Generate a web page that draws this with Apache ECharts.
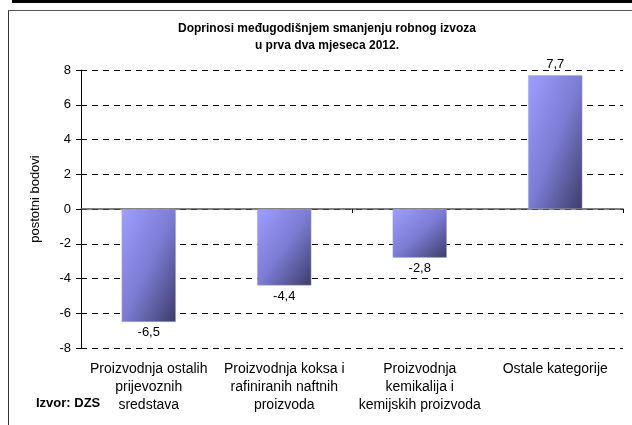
<!DOCTYPE html>
<html><head><meta charset="utf-8">
<script src="https://cdn.jsdelivr.net/npm/echarts@6/dist/echarts.min.js"></script>
<style>html,body{margin:0;padding:0;background:#fff}#c{width:632px;height:425px}</style>
</head><body><div id="c"></div>
<script>
const titleLines = ['Doprinosi međugodišnjem smanjenju robnog izvoza', 'u prva dva mjeseca 2012.'];
const categories = ['Proizvodnja ostalih\nprijevoznih\nsredstava', 'Proizvodnja koksa i\nrafiniranih naftnih\nproizvoda', 'Proizvodnja\nkemikalija i\nkemijskih proizvoda', 'Ostale kategorije'];
const values = [-6.5, -4.4, -2.8, 7.7];
const yAxisName = 'postotni bodovi';
const sourceText = 'Izvor: DZS';

const FONT = '"Liberation Sans", Arial, sans-serif';
const chart = echarts.init(document.getElementById('c'), null, {renderer: 'canvas'});
const stops = [
  {offset: 0, color: '#9e9eff'},
  {offset: 0.5, color: '#7c7cd4'},
  {offset: 1, color: '#3c3c6a'}
];
const baseOption = {
  animation: false,
  textStyle: {fontFamily: FONT},
  title: {
    text: titleLines.join('\n'),
    left: 322, top: 15, textAlign: 'center',
    textStyle: {fontSize: 12, fontWeight: 'bold', color: '#000', lineHeight: 17, fontFamily: FONT}
  },
  graphic: [
    {type: 'rect', shape: {x: 12, y: 0, width: 620, height: 3}, style: {fill: '#000'}, silent: true},
    {type: 'line', shape: {x1: 8.5, y1: 10, x2: 8.5, y2: 425}, style: {stroke: '#333', lineWidth: 1}, silent: true},
    {type: 'line', shape: {x1: 8, y1: 10.5, x2: 632, y2: 10.5}, style: {stroke: '#555', lineWidth: 1}, silent: true},
    {type: 'text', left: 36, top: 397, style: {text: sourceText, font: 'bold 13px ' + FONT, fill: '#000'}}
  ],
  grid: {left: 81, right: 9, top: 70, bottom: 77, containLabel: false},
  xAxis: [
    {type: 'category', data: categories, position: 'bottom',
     axisLine: {show: false, onZero: false}, axisTick: {show: false},
     axisLabel: {color: '#000', fontSize: 14, lineHeight: 18, margin: 12, interval: 0, fontFamily: FONT}},
    {type: 'category', data: categories, position: 'bottom',
     axisLine: {show: true, onZero: true, lineStyle: {color: '#555', width: 1.5}},
     axisTick: {show: true, length: 4, inside: false, lineStyle: {color: '#000'}},
     axisLabel: {show: false}}
  ],
  yAxis: {
    type: 'value', min: -8, max: 8, interval: 2,
    name: yAxisName, nameLocation: 'middle', nameGap: 39, nameRotate: 90,
    nameTextStyle: {color: '#000', fontSize: 13, fontFamily: FONT, padding: [0, 0, 0, 20]},
    axisLine: {show: true, lineStyle: {color: '#000', width: 1}},
    axisTick: {show: true, length: 5, lineStyle: {color: '#000'}},
    axisLabel: {color: '#000', fontSize: 13, margin: 10, fontFamily: FONT},
    splitLine: {show: true, lineStyle: {color: '#000', type: [6, 5], width: 1}}
  },
  series: [{
    type: 'bar', data: values, barWidth: '40%', xAxisIndex: 0,
    itemStyle: {color: stops[0].color, borderColor: '#aab', borderWidth: 0.5},
    label: {show: true, position: 'top', color: '#000', fontSize: 13, fontFamily: FONT, distance: 4,
      formatter: p => String(p.value).replace('.', ',')}
  }]
};
chart.setOption(baseOption);
// per-bar diagonal gradient (Excel-like: isolines parallel to the bar's anti-diagonal)
const bandW = chart.convertToPixel({xAxisIndex: 0}, categories[1]) - chart.convertToPixel({xAxisIndex: 0}, categories[0]);
const w = bandW * 0.4;
const data = values.map((v, i) => {
  const cx = chart.convertToPixel({xAxisIndex: 0}, categories[i]);
  const y0 = chart.convertToPixel({yAxisIndex: 0}, 0);
  const y1 = chart.convertToPixel({yAxisIndex: 0}, v);
  const top = Math.min(y0, y1), h = Math.abs(y1 - y0);
  const left = cx - w / 2;
  const n = Math.sqrt(h * h + w * w);
  const ux = h / n, uy = w / n;
  const L = 2 * w * h / n;
  return {
    value: v,
    label: {position: v < 0 ? 'bottom' : 'top'},
    itemStyle: {color: new echarts.graphic.LinearGradient(left, top, left + ux * L, top + uy * L, stops, true)}
  };
});
chart.setOption({series: [{data: data}]});
</script></body></html>
